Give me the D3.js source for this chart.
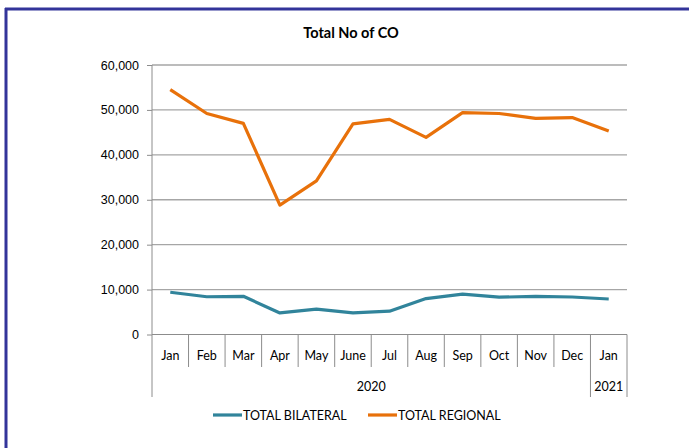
<!DOCTYPE html>
<meta charset="utf-8">
<head>
<style>
body { margin: 0; background: #fff; font-family: Lato, "Liberation Sans", Arial, sans-serif; }
.grid line { stroke: #a6a6a6; stroke-width: 1.3; }
.axis text { font-size: 12.5px; fill: #000; }
.axis path, .axis line { stroke: #8c8c8c; }
</style>
</head>
<body>
<svg id="chart" width="689" height="448"></svg>
<script src="https://cdnjs.cloudflare.com/ajax/libs/d3/7.8.5/d3.min.js"></script>
<script>

// data
var months = ["Jan", "Feb", "Mar", "Apr", "May", "June", "Jul", "Aug", "Sep", "Oct", "Nov", "Dec", "Jan"];
var years = [{label: "2020", from: 0, to: 11}, {label: "2021", from: 12, to: 12}];
var bilateral = [9400, 8400, 8500, 4800, 5650, 4800, 5200, 8000, 9000, 8300, 8500, 8350, 7900];
var regional = [54500, 49200, 47000, 28800, 34200, 46900, 47900, 43900, 49400, 49200, 48100, 48300, 45300];
var yTicks = [0, 10000, 20000, 30000, 40000, 50000, 60000];
var seriesNames = ["TOTAL BILATERAL", "TOTAL REGIONAL"];
var colors = ["#31849b", "#e8710a"];

var svg = d3.select("#chart");

// frame (top + left only, the rest is cut off)
svg.append("line").attr("x1", 5).attr("x2", 689).attr("y1", 9).attr("y2", 9)
   .attr("stroke", "#33349a").attr("stroke-width", 3);
svg.append("line").attr("x1", 6).attr("x2", 6).attr("y1", 8).attr("y2", 448)
   .attr("stroke", "#33349a").attr("stroke-width", 3);

// title
svg.append("text")
   .attr("x", 351).attr("y", 38)
   .attr("text-anchor", "middle")
   .style("font-weight", "bold").style("font-size", "14.5px")
   .text("Total No of CO");

var pLeft = 152, pRight = 627, pTop = 65, pBottom = 334.5;

var x = d3.scaleBand().domain(d3.range(months.length)).range([pLeft, pRight]);
var y = d3.scaleLinear().domain([0, 60000]).range([pBottom, pTop]);

// gridlines
svg.append("g").attr("class", "grid")
   .selectAll("line").data(yTicks.filter(function(d) { return d > 0; }))
   .enter().append("line")
   .attr("x1", pLeft).attr("x2", pRight)
   .attr("y1", function(d) { return y(d); }).attr("y2", function(d) { return y(d); });

// y axis
var yAxis = d3.axisLeft(y).tickValues(yTicks).tickSize(5).tickPadding(8)
    .tickFormat(function(d) { return d === 0 ? "0" : d3.format(",")(d); });
var gy = svg.append("g").attr("class", "axis").attr("transform", "translate(" + pLeft + ",0)").call(yAxis);
gy.select(".domain").remove();
gy.append("line").attr("x1", 0).attr("x2", 0).attr("y1", pTop).attr("y2", pBottom).attr("stroke", "#8c8c8c");

// x axis: month row + year row
var gx = svg.append("g").attr("class", "axis");
gx.append("line").attr("x1", pLeft).attr("x2", pRight).attr("y1", pBottom).attr("y2", pBottom).attr("stroke", "#8c8c8c");

var bounds = d3.range(months.length + 1);
var yearBounds = [0, 12, 13];
gx.selectAll(".sep").data(bounds).enter().append("line")
  .attr("x1", function(i) { return pLeft + i * x.step(); })
  .attr("x2", function(i) { return pLeft + i * x.step(); })
  .attr("y1", pBottom)
  .attr("y2", function(i) { return yearBounds.indexOf(i) >= 0 ? 397 : 367; })
  .attr("stroke", "#8c8c8c");

gx.selectAll(".mon").data(months).enter().append("text")
  .attr("x", function(d, i) { return x(i) + x.bandwidth() / 2; })
  .attr("y", 360)
  .attr("text-anchor", "middle")
  .text(function(d) { return d; });

gx.selectAll(".yr").data(years).enter().append("text")
  .attr("x", function(d) { return (x(d.from) + x(d.to) + x.bandwidth()) / 2; })
  .attr("y", 391)
  .attr("text-anchor", "middle")
  .text(function(d) { return d.label; });

// lines
var line = d3.line()
    .x(function(d, i) { return x(i) + x.bandwidth() / 2; })
    .y(function(d) { return y(d); });

[bilateral, regional].forEach(function(s, k) {
  svg.append("path").datum(s)
     .attr("d", line)
     .attr("fill", "none")
     .attr("stroke", colors[k])
     .attr("stroke-width", 3.2)
     .attr("stroke-linejoin", "round");
});

// legend
var legX = [213, 368];
var leg = svg.selectAll(".leg").data(seriesNames).enter().append("g")
   .attr("transform", function(d, i) { return "translate(" + legX[i] + ",415)"; });
leg.append("line").attr("x1", 0).attr("x2", 29).attr("y1", 0).attr("y2", 0)
   .attr("stroke", function(d, i) { return colors[i]; }).attr("stroke-width", 3.2);
leg.append("text").attr("x", 30).attr("y", 4.5).style("font-size", "12.5px").text(function(d) { return d; });

</script>
</body>
